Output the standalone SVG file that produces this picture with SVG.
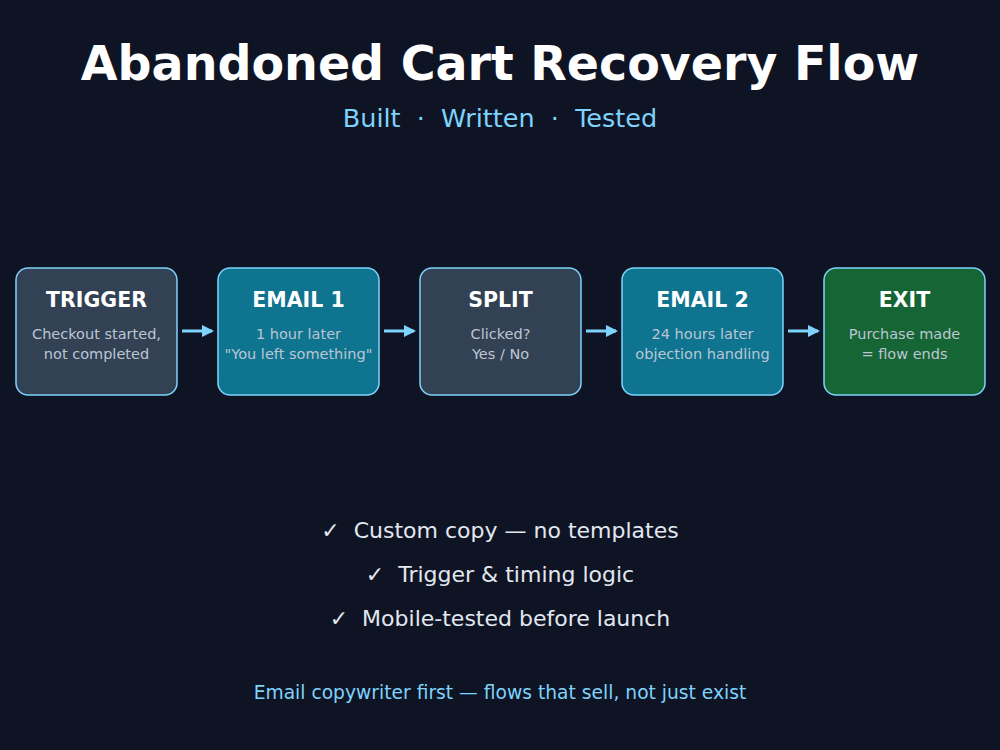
<svg xmlns="http://www.w3.org/2000/svg" width="1000" height="750" viewBox="0 0 1000 750">
<defs>
<style>
text{font-family:"DejaVu Sans",sans-serif;text-anchor:middle}
.title{font-size:47.5px;font-weight:bold;fill:#ffffff}
.sub{font-size:25.5px;fill:#7dd3fc;white-space:pre}
.box{stroke:#7dd3fc;stroke-width:1.5}
.dark{fill:#334155}
.teal{fill:#0e7490}
.green{fill:#166534}
.nt{font-size:20.5px;font-weight:bold;fill:#ffffff}
.nd{font-size:14.5px;fill:#bcc6d3}
.chk{font-size:22px;fill:#e2e8f0;white-space:pre}
.foot{font-size:18.7px;fill:#7dd3fc}
.conn{stroke:#7dd3fc;stroke-width:3;fill:none}
</style>
<marker id="ah" markerWidth="12" markerHeight="12" refX="10" refY="6" orient="auto" markerUnits="userSpaceOnUse">
<path d="M0,0 L12,6 L0,12 Z" fill="#7dd3fc"/>
</marker>
</defs>
<rect width="1000" height="750" fill="#0f1424"/>
<text class="title" x="500" y="80">Abandoned Cart Recovery Flow</text>
<text class="sub" x="500" y="127">Built  ·  Written  ·  Tested</text>
<g id="connectors">
<line class="conn" x1="182" y1="331" x2="212" y2="331" marker-end="url(#ah)"/>
<line class="conn" x1="384" y1="331" x2="414" y2="331" marker-end="url(#ah)"/>
<line class="conn" x1="586" y1="331" x2="616" y2="331" marker-end="url(#ah)"/>
<line class="conn" x1="788" y1="331" x2="818" y2="331" marker-end="url(#ah)"/>
</g>
<g id="trigger">
<rect class="box dark" x="16" y="268" width="161" height="127" rx="12"/>
<text class="nt" x="96.5" y="307">TRIGGER</text>
<text class="nd" x="96.5" y="339">Checkout started,</text>
<text class="nd" x="96.5" y="359">not completed</text>
</g>
<g id="email1">
<rect class="box teal" x="218" y="268" width="161" height="127" rx="12"/>
<text class="nt" x="298.5" y="307">EMAIL 1</text>
<text class="nd" x="298.5" y="339">1 hour later</text>
<text class="nd" x="298.5" y="359">"You left something"</text>
</g>
<g id="split">
<rect class="box dark" x="420" y="268" width="161" height="127" rx="12"/>
<text class="nt" x="500.5" y="307">SPLIT</text>
<text class="nd" x="500.5" y="339">Clicked?</text>
<text class="nd" x="500.5" y="359">Yes / No</text>
</g>
<g id="email2">
<rect class="box teal" x="622" y="268" width="161" height="127" rx="12"/>
<text class="nt" x="702.5" y="307">EMAIL 2</text>
<text class="nd" x="702.5" y="339">24 hours later</text>
<text class="nd" x="702.5" y="359">objection handling</text>
</g>
<g id="exit">
<rect class="box green" x="824" y="268" width="161" height="127" rx="12"/>
<text class="nt" x="904.5" y="307">EXIT</text>
<text class="nd" x="904.5" y="339">Purchase made</text>
<text class="nd" x="904.5" y="359">= flow ends</text>
</g>
<text class="chk" x="500" y="538">✓  Custom copy — no templates</text>
<text class="chk" x="500" y="582">✓  Trigger &amp; timing logic</text>
<text class="chk" x="500" y="626">✓  Mobile-tested before launch</text>
<text class="foot" x="500" y="699">Email copywriter first — flows that sell, not just exist</text>
</svg>
